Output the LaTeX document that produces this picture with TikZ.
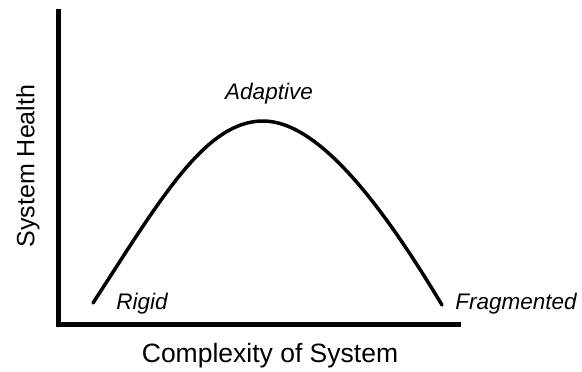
\documentclass[tikz,border=0pt]{standalone}
\usepackage{fontspec}
\setmainfont{Liberation Sans}
\usepackage{tikz}
\usetikzlibrary{positioning}
\tikzset{
  axis/.style={line width=4.5bp, line cap=rect},
  curv/.style={line width=3.5bp, line cap=round},
  ttl/.style={font=\fontsize{25bp}{28bp}\selectfont, inner sep=0pt},
  lbl/.style={font=\fontsize{22.5bp}{26bp}\selectfont\itshape, inner sep=0pt},
}

\begin{document}
\begin{tikzpicture}[x=1bp, y=-1bp]
    \useasboundingbox (0,0) rectangle (582,371);

    % axes
    \coordinate (o)  at (58.5,324.5);
    \coordinate (yt) at (58.5,11);
    \coordinate (xe) at (459,324.5);
    \draw[axis] (yt) -- (o) -- (xe);

    % health curve
    \coordinate (c0) at (93,303);
    \coordinate (c1) at (263,121);
    \coordinate (c2) at (442,305);
    \draw[curv] (c0) .. controls (160,200) and (205,121) .. (c1)
                     .. controls (320,121) and (385,210) .. (c2);

    % labels
    \node[lbl] (rig) at (142,304) {Rigid};
    \node[lbl] (ada) at (269,94)  {Adaptive};
    \node[lbl] (fra) at (516,304) {Fragmented};
    \node[ttl, font=\fontsize{26.5bp}{29bp}\selectfont] (xl) at (270,356) {Complexity of System};
    \node[ttl, rotate=90] (yl) at (28,166) {System Health};
  \end{tikzpicture}
\end{document}
